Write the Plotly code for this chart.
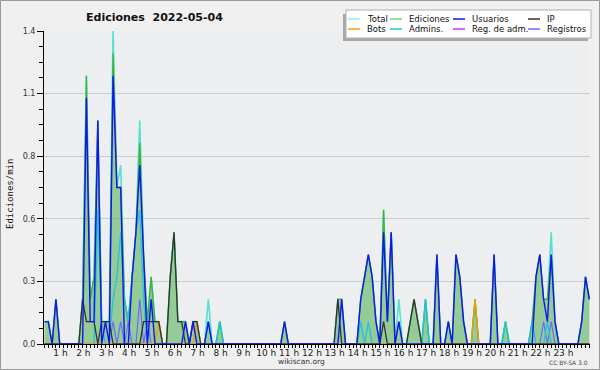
import plotly.graph_objects as go

# ---------------- data (edits per minute, 10-minute buckets, 00:00 .. 23:50) ----------------
hour_labels = [f"{h} h" for h in range(1, 24)]

total = [
    0.1, 0.1, 0, 0.2, 0, 0, 0, 0, 0, 0, 0.2, 1.2,
    0.2, 0.3, 1.0, 0.1, 0.1, 0.1, 1.4, 0.7, 0.8, 0.2, 0.1, 0.3,
    0.5, 1.0, 0.4, 0.1, 0.3, 0.1, 0.1, 0, 0, 0.3, 0.5, 0.1,
    0.1, 0.1, 0, 0.1, 0.1, 0, 0, 0.2, 0, 0, 0.1, 0,
    0, 0, 0, 0, 0, 0, 0, 0, 0, 0, 0, 0,
    0, 0, 0, 0.1, 0, 0, 0, 0, 0, 0, 0, 0,
    0, 0, 0, 0, 0, 0.2, 0.2, 0, 0, 0, 0, 0.2,
    0.3, 0.4, 0.3, 0.1, 0, 0.6, 0.1, 0.5, 0, 0.2, 0, 0,
    0.1, 0.2, 0.1, 0, 0.2, 0, 0, 0.4, 0, 0, 0.1, 0,
    0.4, 0.3, 0.1, 0, 0, 0.2, 0, 0, 0, 0, 0.4, 0,
    0, 0.1, 0, 0, 0, 0, 0, 0, 0.1, 0.3, 0.4, 0.2,
    0.2, 0.5, 0.1, 0, 0, 0, 0, 0, 0, 0.1, 0.3, 0.2,
]
ediciones = [
    0.1, 0.1, 0, 0.2, 0, 0, 0, 0, 0, 0, 0.2, 1.2,
    0.2, 0.3, 1.0, 0.1, 0.1, 0.1, 1.3, 0.7, 0.7, 0.2, 0.1, 0.3,
    0.5, 0.9, 0.4, 0.1, 0.3, 0.1, 0.1, 0, 0, 0.3, 0.5, 0.1,
    0.1, 0.1, 0, 0.1, 0.1, 0, 0, 0.1, 0, 0, 0.1, 0,
    0, 0, 0, 0, 0, 0, 0, 0, 0, 0, 0, 0,
    0, 0, 0, 0.1, 0, 0, 0, 0, 0, 0, 0, 0,
    0, 0, 0, 0, 0, 0.2, 0.2, 0, 0, 0, 0, 0.2,
    0.3, 0.4, 0.3, 0.1, 0, 0.6, 0.1, 0.5, 0, 0.1, 0, 0,
    0.1, 0.2, 0.1, 0, 0.2, 0, 0, 0.4, 0, 0, 0.1, 0,
    0.4, 0.3, 0.1, 0, 0, 0.2, 0, 0, 0, 0, 0.4, 0,
    0, 0.1, 0, 0, 0, 0, 0, 0, 0.1, 0.3, 0.4, 0.2,
    0.2, 0.4, 0.1, 0, 0, 0, 0, 0, 0, 0.1, 0.3, 0.2,
]
usuarios = [
    0.1, 0.1, 0, 0.2, 0, 0, 0, 0, 0, 0, 0, 1.1,
    0.1, 0.1, 1.0, 0, 0.1, 0, 1.2, 0.7, 0.7, 0, 0, 0.3,
    0.5, 0.8, 0.4, 0, 0.2, 0, 0, 0, 0, 0, 0, 0,
    0, 0.1, 0, 0.1, 0, 0, 0, 0.1, 0, 0, 0, 0,
    0, 0, 0, 0, 0, 0, 0, 0, 0, 0, 0, 0,
    0, 0, 0, 0.1, 0, 0, 0, 0, 0, 0, 0, 0,
    0, 0, 0, 0, 0, 0, 0.2, 0, 0, 0, 0, 0.2,
    0.3, 0.4, 0.3, 0.1, 0, 0.5, 0.1, 0.5, 0, 0.1, 0, 0,
    0, 0, 0, 0, 0, 0, 0, 0.4, 0, 0, 0.1, 0,
    0.4, 0.3, 0.1, 0, 0, 0, 0, 0, 0, 0, 0.4, 0,
    0, 0, 0, 0, 0, 0, 0, 0, 0, 0.3, 0.4, 0.2,
    0.1, 0.4, 0.1, 0, 0, 0, 0, 0, 0, 0.1, 0.3, 0.2,
]
ip = [
    0, 0, 0, 0, 0, 0, 0, 0, 0, 0, 0.2, 0.1,
    0.1, 0.1, 0, 0.1, 0.1, 0.1, 0, 0, 0, 0, 0, 0,
    0, 0, 0.1, 0.1, 0.1, 0.1, 0.1, 0, 0, 0.3, 0.5, 0.1,
    0.1, 0, 0, 0.1, 0.1, 0, 0, 0, 0, 0, 0, 0,
    0, 0, 0, 0, 0, 0, 0, 0, 0, 0, 0, 0,
    0, 0, 0, 0, 0, 0, 0, 0, 0, 0, 0, 0,
    0, 0, 0, 0, 0, 0.2, 0, 0, 0, 0, 0, 0,
    0, 0, 0, 0, 0, 0.1, 0, 0, 0, 0, 0, 0,
    0.1, 0.2, 0.1, 0, 0, 0, 0, 0, 0, 0, 0, 0,
    0, 0, 0, 0, 0, 0, 0, 0, 0, 0, 0, 0,
    0, 0, 0, 0, 0, 0, 0, 0, 0, 0, 0, 0,
    0, 0, 0, 0, 0, 0, 0, 0, 0, 0, 0, 0,
]
bots = [
    0, 0, 0, 0, 0, 0, 0, 0, 0, 0, 0, 0,
    0, 0, 0, 0, 0, 0, 0, 0, 0, 0, 0, 0,
    0, 0, 0, 0, 0, 0, 0.1, 0, 0, 0, 0, 0,
    0, 0, 0, 0, 0.1, 0, 0, 0, 0, 0, 0, 0,
    0, 0, 0, 0, 0, 0, 0, 0, 0, 0, 0, 0,
    0, 0, 0, 0, 0, 0, 0, 0, 0, 0, 0, 0,
    0, 0, 0, 0, 0, 0, 0, 0, 0, 0, 0, 0,
    0, 0, 0, 0, 0, 0, 0, 0, 0, 0, 0, 0,
    0, 0, 0, 0, 0, 0, 0, 0, 0, 0, 0, 0,
    0, 0, 0, 0, 0, 0.2, 0, 0, 0, 0, 0, 0,
    0, 0, 0, 0, 0, 0, 0, 0, 0, 0, 0, 0,
    0, 0, 0, 0, 0, 0, 0, 0, 0, 0, 0, 0,
]
admins = [
    0, 0, 0, 0, 0, 0, 0, 0, 0, 0, 0, 0,
    0, 0, 0.6, 0.1, 0, 0, 0.2, 0.3, 0.5, 0.2, 0.1, 0.3,
    0.5, 0.6, 0.2, 0, 0, 0, 0, 0, 0, 0, 0, 0,
    0, 0, 0, 0, 0, 0, 0, 0.1, 0, 0, 0.1, 0,
    0, 0, 0, 0, 0, 0, 0, 0, 0, 0, 0, 0,
    0, 0, 0, 0, 0, 0, 0, 0, 0, 0, 0, 0,
    0, 0, 0, 0, 0, 0, 0, 0, 0, 0, 0, 0.1,
    0, 0.1, 0, 0, 0, 0, 0, 0, 0, 0, 0, 0,
    0, 0, 0, 0, 0.2, 0, 0, 0, 0, 0, 0, 0,
    0, 0, 0, 0, 0, 0, 0, 0, 0, 0, 0, 0,
    0, 0.1, 0, 0, 0, 0, 0, 0, 0.1, 0, 0, 0,
    0.1, 0, 0, 0, 0, 0, 0, 0, 0, 0, 0, 0,
]
reg_adm = [0] * 144
registros = [
    0, 0, 0, 0, 0, 0, 0, 0, 0, 0, 0, 0,
    0, 0, 0, 0, 0, 0, 0.1, 0, 0.1, 0, 0.1, 0,
    0, 0.2, 0, 0.1, 0, 0, 0, 0, 0, 0, 0, 0,
    0, 0, 0, 0, 0, 0, 0, 0, 0, 0, 0, 0,
    0, 0, 0, 0, 0, 0, 0, 0, 0, 0, 0, 0,
    0, 0, 0, 0, 0, 0, 0, 0, 0, 0, 0, 0,
    0, 0, 0, 0, 0, 0, 0, 0, 0, 0, 0, 0,
    0, 0, 0, 0, 0, 0, 0, 0, 0, 0, 0, 0,
    0, 0, 0, 0, 0, 0, 0, 0, 0, 0, 0, 0,
    0, 0, 0, 0, 0, 0, 0, 0, 0, 0, 0, 0,
    0, 0, 0, 0, 0, 0, 0, 0, 0, 0, 0, 0.1,
    0, 0.1, 0, 0, 0, 0, 0, 0, 0, 0, 0, 0,
]
y_tickvals = [0, 0.28, 0.56, 0.84, 1.12, 1.4]
y_ticktext = ["0.0", "0.3", "0.6", "0.8", "1.1", "1.4"]

# time of each bucket in hours
t = [i / 6 for i in range(len(total))]

# ---------------- styling ----------------
C_TOTAL = "rgba(64,224,208,0.9)"
C_EDIC = "#3cb43c"
C_EDIC_FILL = "rgba(90,180,90,0.6)"
C_USU = "#1414f0"
C_IP = "#333333"
C_BOTS = "#ff9a00"
C_ADM = "#20c4dc"
C_REGADM = "#dd33dd"
C_REG = "#6a6aff"

W, H = 600, 370
L, R, T, B = 44, 10, 31, 26
PW, PH = W - L - R, H - T - B


def px(x):
    return (x - L) / PW


def py(y):
    return (H - B - y) / PH


fig = go.Figure()
fig.add_trace(go.Scatter(x=t, y=total, mode="lines", line=dict(color=C_TOTAL, width=1.6)))
fig.add_trace(go.Scatter(x=t, y=ediciones, mode="lines", fill="tozeroy",
                         fillcolor=C_EDIC_FILL, line=dict(color=C_EDIC, width=1.3)))
fig.add_trace(go.Scatter(x=t, y=reg_adm, mode="lines", line=dict(color=C_REGADM, width=1.2)))
fig.add_trace(go.Scatter(x=t, y=registros, mode="lines", line=dict(color=C_REG, width=1.2)))
fig.add_trace(go.Scatter(x=t, y=admins, mode="lines", line=dict(color=C_ADM, width=1.3)))
fig.add_trace(go.Scatter(x=t, y=bots, mode="lines", line=dict(color=C_BOTS, width=1.3)))
fig.add_trace(go.Scatter(x=t, y=ip, mode="lines", line=dict(color=C_IP, width=1.3)))
fig.add_trace(go.Scatter(x=t, y=usuarios, mode="lines", line=dict(color=C_USU, width=1.4)))

x_label_pos = [h - 0.3 for h in range(1, 24)]

fig.update_layout(
    width=W, height=H,
    margin=dict(l=L, r=R, t=T, b=B, pad=0),
    paper_bgcolor="#f0f0f0",
    plot_bgcolor="#eceef0",
    showlegend=False,
    font=dict(family="DejaVu Sans", size=9, color="#222"),
    xaxis=dict(
        range=[-0.022, 23.863], showgrid=False, zeroline=False,
        showline=True, linecolor="black", linewidth=1,
        tickmode="array", tickvals=x_label_pos, ticktext=hour_labels,
        ticks="", ticklen=0, tickfont=dict(size=9, color="#222"),
        minor=dict(ticks="outside", tick0=0, dtick=1 / 6, ticklen=3,
                   tickcolor="black", tickwidth=1, showgrid=False),
    ),
    yaxis=dict(
        range=[0, 1.4], zeroline=False,
        showline=True, linecolor="black", linewidth=1,
        tickmode="array", tickvals=y_tickvals, ticktext=y_ticktext,
        ticks="outside", ticklen=6, tickcolor="black",
        tickfont=dict(size=8, color="#333"),
        showgrid=True, gridcolor="#cccccc", gridwidth=1,
        minor=dict(ticks="outside", tick0=0, dtick=0.07, ticklen=4,
                   tickcolor="black", showgrid=False),
    ),
)

shapes = []
annotations = []
# outer frame
shapes.append(dict(type="rect", xref="paper", yref="paper",
                   x0=px(0.5), x1=px(599.5), y0=py(0.5), y1=py(369.5),
                   line=dict(color="#999999", width=1), fillcolor="rgba(0,0,0,0)", layer="below"))
# legend shadow + box
shapes.append(dict(type="rect", xref="paper", yref="paper",
                   x0=px(343), x1=px(588), y0=py(14), y1=py(41),
                   line=dict(width=0), fillcolor="#a8a8a8"))
shapes.append(dict(type="rect", xref="paper", yref="paper",
                   x0=px(346), x1=px(591), y0=py(10), y1=py(38),
                   line=dict(color="#b0b0b0", width=1), fillcolor="white"))

legend_items = [
    ("Total", C_TOTAL, 348, 19), ("Ediciones", C_EDIC, 390, 19),
    ("Usuarios", C_USU, 453, 19), ("IP", C_IP, 528, 19),
    ("Bots", C_BOTS, 348, 29), ("Admins.", C_ADM, 390, 29),
    ("Reg. de adm.", C_REGADM, 453, 29), ("Registros", C_REG, 528, 29),
]
for name, col, lx, ly in legend_items:
    lc = "#9fe6e6" if name == "Total" else ("#78d078" if name == "Ediciones" else col)
    shapes.append(dict(type="line", xref="paper", yref="paper",
                       x0=px(lx), x1=px(lx + 12), y0=py(ly), y1=py(ly),
                       line=dict(color=lc, width=1.5)))
    annotations.append(dict(xref="paper", yref="paper", x=px(lx + 17), y=py(ly),
                            text=name, showarrow=False, xanchor="left", yanchor="middle",
                            font=dict(family="DejaVu Sans", size=8.5, color="#111")))

# title
annotations.append(dict(xref="paper", yref="paper", x=px(154), y=py(17),
                        text="Ediciones\u00a0\u00a02022-05-04", showarrow=False,
                        xanchor="center", yanchor="middle",
                        font=dict(family="DejaVu Sans", size=11, color="#111", weight="bold")))
# y-axis title
annotations.append(dict(xref="paper", yref="paper", x=px(10), y=py(194),
                        text="Ediciones/min", showarrow=False, textangle=-90,
                        xanchor="center", yanchor="middle",
                        font=dict(family="DejaVu Sans Mono", size=9, color="#111")))
# footer
annotations.append(dict(xref="paper", yref="paper", x=px(301), y=py(361),
                        text="wikiscan.org", showarrow=False,
                        xanchor="center", yanchor="middle",
                        font=dict(family="DejaVu Sans", size=7.5, color="#333")))
annotations.append(dict(xref="paper", yref="paper", x=px(590), y=py(362),
                        text="CC BY-SA 3.0", showarrow=False,
                        xanchor="right", yanchor="middle",
                        font=dict(family="DejaVu Sans", size=6, color="#444")))

fig.update_layout(shapes=shapes, annotations=annotations)
fig.write_html("out.html")
